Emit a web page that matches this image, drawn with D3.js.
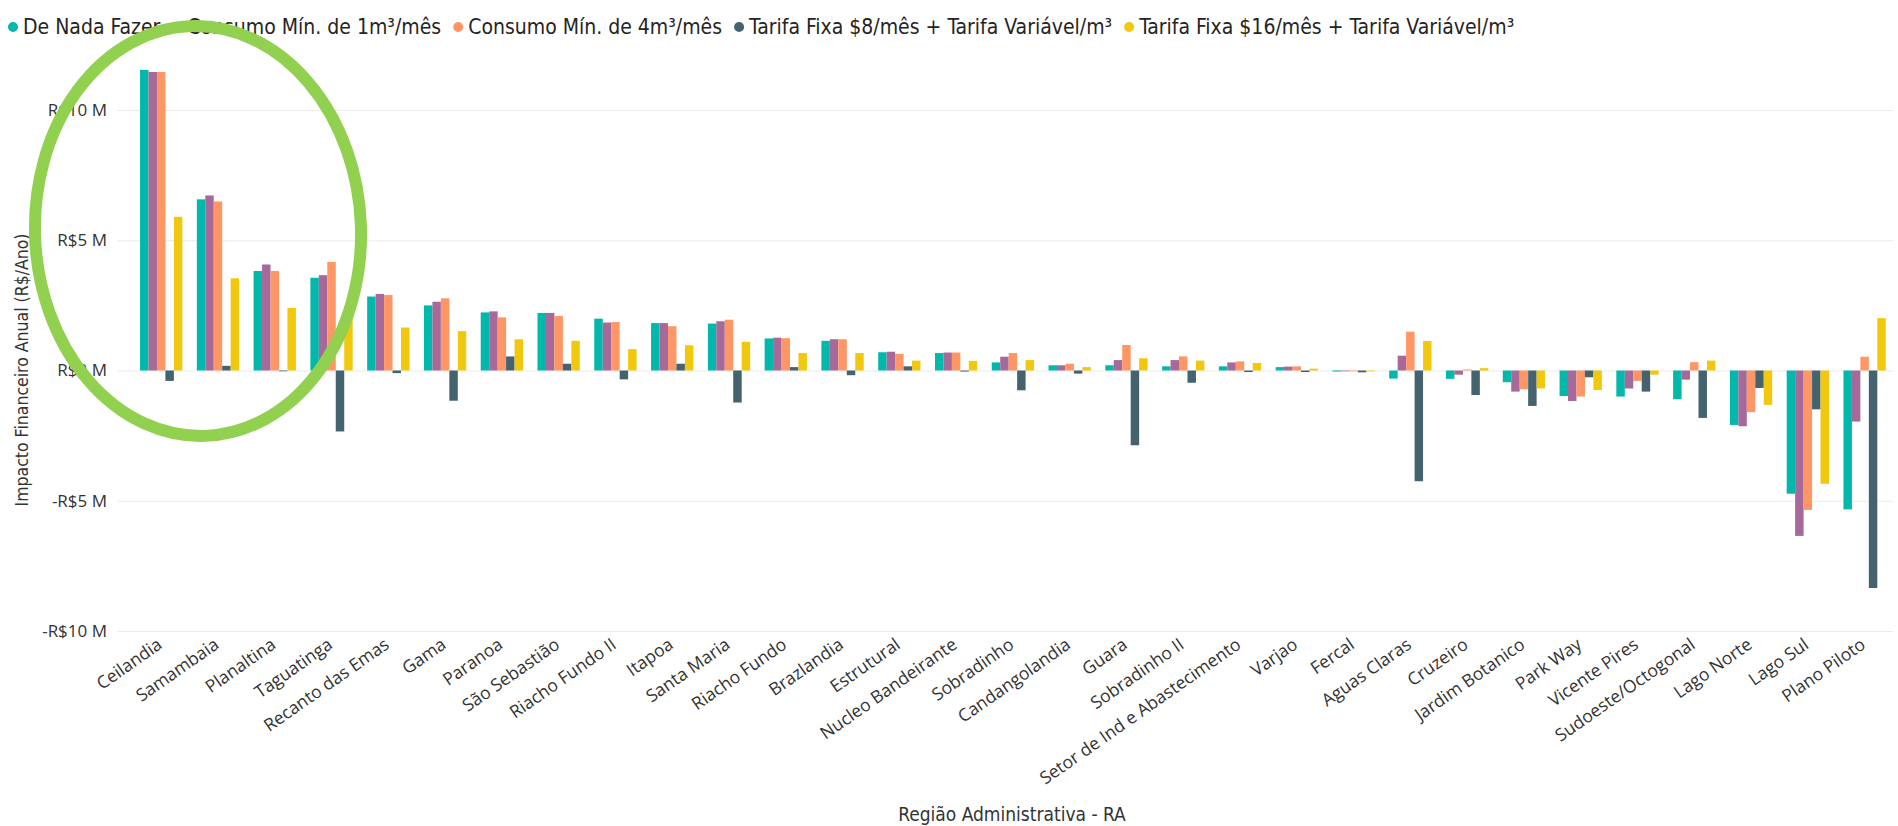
<!DOCTYPE html>
<html>
<head>
<meta charset="utf-8">
<script src="https://cdn.jsdelivr.net/npm/d3@7"></script>
<style>
  html, body { margin: 0; padding: 0; background: #fff; }
  svg { display: block; }
  .cond { font-family: "DejaVu Sans Condensed", "Liberation Sans Narrow", "DejaVu Sans", sans-serif; font-stretch: condensed; }
  .sans { font-family: "Open Sans", "Noto Sans", sans-serif; }
</style>
</head>
<body>
<svg id="chart" width="1898" height="826"></svg>
<script>
// Regiões Administrativas do DF
const categories = [
  "Ceilandia", "Samambaia", "Planaltina", "Taguatinga", "Recanto das Emas", "Gama",
  "Paranoa", "São Sebastião", "Riacho Fundo II", "Itapoa", "Santa Maria", "Riacho Fundo",
  "Brazlandia", "Estrutural", "Nucleo Bandeirante", "Sobradinho", "Candangolandia", "Guara",
  "Sobradinho II", "Setor de Ind e Abastecimento", "Varjao", "Fercal", "Aguas Claras",
  "Cruzeiro", "Jardim Botanico", "Park Way", "Vicente Pires", "Sudoeste/Octogonal",
  "Lago Norte", "Lago Sul", "Plano Piloto"
];

const seriesNames = [
  "De Nada Fazer",
  "Consumo Mín. de 1m³/mês",
  "Consumo Mín. de 4m³/mês",
  "Tarifa Fixa $8/mês + Tarifa Variável/m³",
  "Tarifa Fixa $16/mês + Tarifa Variável/m³"
];

// Impacto financeiro anual, em milhões de R$
const deNadaFazer = [11.54, 6.57, 3.82, 3.56, 2.84, 2.50, 2.23, 2.21, 1.99, 1.82, 1.80, 1.23,
  1.14, 0.70, 0.67, 0.31, 0.20, 0.20, 0.16, 0.16, 0.13, -0.04, -0.31, -0.32, -0.45, -0.98,
  -1.00, -1.10, -2.09, -4.73, -5.33];
const consumoMin1 = [11.46, 6.72, 4.07, 3.66, 2.94, 2.64, 2.27, 2.21, 1.84, 1.82, 1.89, 1.26,
  1.20, 0.72, 0.69, 0.53, 0.20, 0.40, 0.40, 0.31, 0.15, -0.03, 0.57, -0.16, -0.81, -1.17,
  -0.69, -0.35, -2.14, -6.35, -1.96];
const consumoMin4 = [11.46, 6.49, 3.82, 4.17, 2.90, 2.77, 2.04, 2.09, 1.86, 1.70, 1.95, 1.24,
  1.20, 0.64, 0.69, 0.67, 0.26, 0.98, 0.54, 0.35, 0.16, -0.03, 1.49, 0.04, -0.72, -1.00,
  -0.40, 0.32, -1.60, -5.35, 0.53];
const tarifaFixa8 = [-0.40, 0.18, -0.03, -2.34, -0.10, -1.16, 0.54, 0.26, -0.34, 0.26, -1.23, 0.13,
  -0.18, 0.16, -0.04, -0.76, -0.12, -2.87, -0.47, -0.06, -0.06, -0.07, -4.25, -0.94, -1.36, -0.26,
  -0.81, -1.82, -0.67, -1.49, -8.35];
const tarifaFixa16 = [5.90, 3.54, 2.40, 2.06, 1.65, 1.51, 1.20, 1.14, 0.82, 0.97, 1.10, 0.67,
  0.67, 0.38, 0.37, 0.40, 0.13, 0.47, 0.38, 0.29, 0.07, -0.03, 1.13, 0.09, -0.69, -0.75,
  -0.16, 0.38, -1.32, -4.35, 2.01];

const yTicks = [-10, -5, 0, 5, 10];

const seriesValues = [deNadaFazer, consumoMin1, consumoMin4, tarifaFixa8, tarifaFixa16];
const seriesColors = ["#01B8AA", "#A66999", "#FE9666", "#44636E", "#F2C80F"];

const W = 1898, H = 826;
const svg = d3.select("#chart");
svg.append("rect").attr("width", W).attr("height", H).attr("fill", "#fff");

const gridLeft = 117, gridRight = 1893;

const y = d3.scaleLinear().domain([-10, 10]).range([631, 110]);
const x0 = d3.scaleBand().domain(categories).range([132.8, 1893])
  .paddingInner(0.255).paddingOuter(0.1275);
const x1 = d3.scaleBand().domain(d3.range(seriesNames.length)).range([0, x0.bandwidth()]);

// Eixo Y com linhas de grade
const fmt = v => (v < 0 ? "-R$" + Math.abs(v) : "R$" + v) + " M";
const yAxis = svg.append("g")
  .attr("transform", `translate(${gridLeft},0)`)
  .call(d3.axisLeft(y).tickValues(yTicks).tickSize(-(gridRight - gridLeft)).tickPadding(10).tickFormat(fmt));
yAxis.select(".domain").remove();
yAxis.selectAll(".tick line").attr("stroke", "#ebebeb").attr("stroke-width", 1);
yAxis.selectAll(".tick text")
  .attr("class", "sans")
  .attr("font-size", 17)
  .attr("fill", "#333");

// Barras agrupadas
const groups = svg.append("g").selectAll("g")
  .data(categories)
  .join("g")
  .attr("transform", c => `translate(${x0(c)},0)`);

groups.selectAll("rect")
  .data((c, i) => seriesValues.map((vals, s) => ({ s, v: vals[i] })))
  .join("rect")
  .attr("x", d => x1(d.s))
  .attr("width", x1.bandwidth())
  .attr("y", d => y(Math.max(0, d.v)))
  .attr("height", d => Math.abs(y(d.v) - y(0)))
  .attr("fill", d => seriesColors[d.s]);

// Eixo X com rótulos inclinados
const xAxis = svg.append("g")
  .attr("transform", "translate(0,637)")
  .call(d3.axisBottom(x0).tickSize(0).tickPadding(0));
xAxis.select(".domain").remove();
xAxis.selectAll(".tick text")
  .attr("class", "sans")
  .attr("font-size", 17.5)
  .attr("fill", "#333")
  .attr("text-anchor", "end")
  .attr("y", 0)
  .attr("dy", "0.71em")
  .attr("transform", "translate(-5,0) rotate(-35)");

// Títulos dos eixos
svg.append("text")
  .attr("class", "cond")
  .attr("transform", "translate(28,370) rotate(-90)")
  .attr("text-anchor", "middle")
  .attr("font-size", 17.5)
  .attr("fill", "#333")
  .text("Impacto Financeiro Anual (R$/Ano)");

svg.append("text")
  .attr("class", "cond")
  .attr("x", 1012)
  .attr("y", 821)
  .attr("text-anchor", "middle")
  .attr("font-size", 19)
  .attr("fill", "#333")
  .text("Região Administrativa - RA");

// Legenda
const legend = svg.append("g").attr("transform", "translate(0,27)");
let lx = 13;
seriesNames.forEach((name, i) => {
  legend.append("circle").attr("cx", lx).attr("cy", 0).attr("r", 5).attr("fill", seriesColors[i]);
  const t = legend.append("text")
    .attr("class", "cond")
    .attr("x", lx + 10)
    .attr("y", 0)
    .attr("dy", "0.35em")
    .attr("font-size", 21)
    .attr("fill", "#252423")
    .text(name);
  lx += 10 + t.node().getComputedTextLength() + 17;
});

// Destaque das maiores regiões
svg.append("ellipse")
  .attr("cx", 198)
  .attr("cy", 231)
  .attr("rx", 163)
  .attr("ry", 205)
  .attr("transform", "rotate(-2,198,231)")
  .attr("fill", "none")
  .attr("stroke", "#92D050")
  .attr("stroke-width", 12);
</script>
</body>
</html>
